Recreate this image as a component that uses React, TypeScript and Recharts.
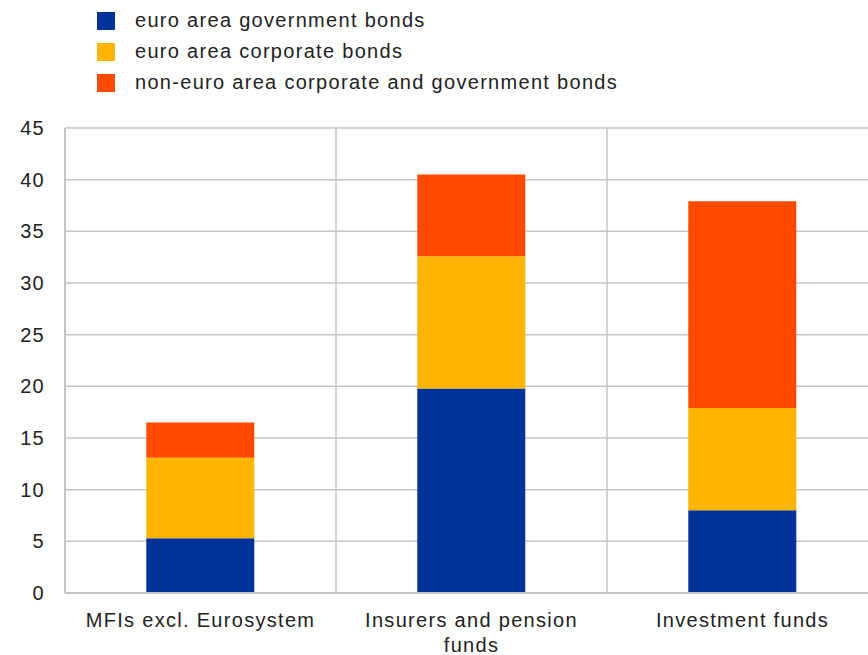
import { BarChart, Bar, XAxis, YAxis, CartesianGrid } from "recharts";

const categories = ["MFIs excl. Eurosystem", "Insurers and pension funds", "Investment funds"];
const govBonds = [5.3, 19.8, 8.0];
const corpBonds = [7.8, 12.8, 9.9];
const nonEuroBonds = [3.4, 7.9, 20.0];
const yTicks = [0, 5, 10, 15, 20, 25, 30, 35, 40, 45];

const series = [
  { key: "gov", name: "euro area government bonds", color: "#003299" },
  { key: "corp", name: "euro area corporate bonds", color: "#FFB400" },
  { key: "nonEuro", name: "non-euro area corporate and government bonds", color: "#FF4B00" },
];

const data = categories.map((c, i) => ({
  name: c,
  gov: govBonds[i],
  corp: corpBonds[i],
  nonEuro: nonEuroBonds[i],
}));

const FONT = "'Liberation Sans', Arial, sans-serif";
const SPACING = "1.3px";

// word wrap by character count, labels longer than 22 chars break
const wrap = (label: string, max = 22) => {
  const lines: string[] = [];
  let cur = "";
  label.split(" ").forEach((w) => {
    const next = cur ? cur + " " + w : w;
    if (next.length > max && cur) {
      lines.push(cur);
      cur = w;
    } else {
      cur = next;
    }
  });
  if (cur) lines.push(cur);
  return lines;
};

const XTick = (props: any) => {
  const { x, y, payload } = props;
  return (
    <text x={x} y={y} textAnchor="middle" fill="#222" style={{ fontSize: 20, fontFamily: FONT, letterSpacing: SPACING }}>
      {wrap(payload.value).map((line, i) => (
        <tspan key={i} x={x} dy={i === 0 ? 11 : 25}>
          {line}
        </tspan>
      ))}
    </text>
  );
};

const App = () => (
  <div style={{ position: "absolute", left: 0, top: 0, width: 868, height: 655, overflow: "hidden", background: "#fff", fontFamily: FONT }}>
    {/* legend */}
    <div style={{ position: "absolute", left: 97, top: 5 }}>
      {series.map((s) => (
        <div key={s.key} style={{ display: "flex", alignItems: "center", height: 31 }}>
          <div style={{ width: 18, height: 18, background: s.color, marginRight: 20 }} />
          <span style={{ fontSize: 20, color: "#222", letterSpacing: SPACING }}>{s.name}</span>
        </div>
      ))}
    </div>
    <div style={{ position: "absolute", left: 0, top: 0 }}>
      <BarChart width={878} height={655} data={data} margin={{ top: 128, right: 0, bottom: 0, left: 0 }} barCategoryGap="30%">
        <CartesianGrid
          stroke="#c4c4c4"
          strokeWidth={1.5}
          verticalCoordinatesGenerator={({ offset }: any) =>
            categories.map((_, i) => offset.left + (i * offset.width) / categories.length).concat(offset.left + offset.width)
          }
        />
        <XAxis
          dataKey="name"
          height={62}
          axisLine={{ stroke: "#c4c4c4", strokeWidth: 2 }}
          tickLine={false}
          tickSize={6}
          tickMargin={17}
          tick={<XTick />}
          interval={0}
        />
        <YAxis
          domain={[0, 45]}
          ticks={yTicks}
          width={65}
          axisLine={{ stroke: "#c4c4c4", strokeWidth: 2 }}
          tickLine={false}
          tickSize={6}
          tickMargin={14}
          tick={{ fontSize: 20, fill: "#222", fontFamily: FONT, style: { letterSpacing: SPACING } }}
        />
        {series.map((s) => (
          <Bar key={s.key} dataKey={s.key} name={s.name} stackId="a" fill={s.color} isAnimationActive={false} />
        ))}
      </BarChart>
    </div>
  </div>
);

export default App;
